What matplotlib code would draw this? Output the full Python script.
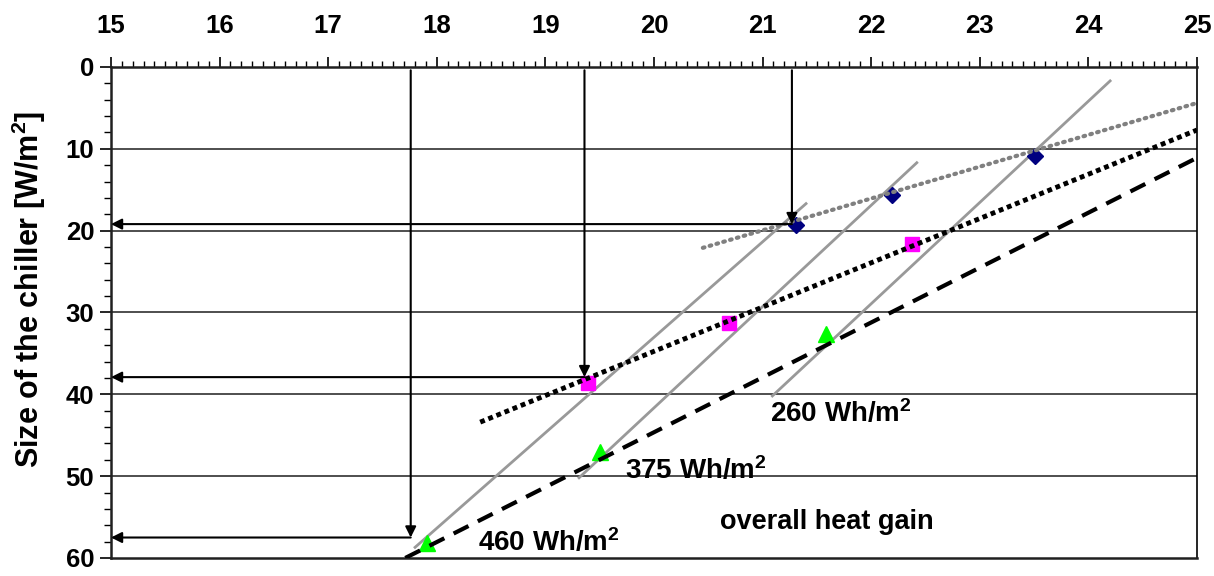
import matplotlib
matplotlib.use("Agg")
import matplotlib.pyplot as plt
from matplotlib.ticker import MultipleLocator

plt.rcParams['font.family'] = ['Liberation Sans', 'DejaVu Sans']
plt.rcParams['font.weight'] = 'bold'
plt.rcParams['mathtext.fontset'] = 'custom'
plt.rcParams['mathtext.rm'] = 'Liberation Sans'
plt.rcParams['mathtext.bf'] = 'Liberation Sans:bold'
plt.rcParams['mathtext.default'] = 'regular'

# measured points
diamond_x = [21.31, 22.19, 23.51]
diamond_y = [19.3, 15.6, 10.9]
square_x = [19.39, 20.69, 22.38]
square_y = [38.6, 31.3, 21.6]
triangle_x = [17.91, 19.50, 21.58]
triangle_y = [58.2, 47.1, 32.6]

# trend lines (end points)
trend_grey_x = [20.45, 25.0]
trend_grey_y = [22.1, 4.4]
trend_dot_x = [18.40, 25.0]
trend_dot_y = [43.4, 7.7]
trend_dash_x = [17.71, 25.0]
trend_dash_y = [60.0, 11.1]

# constant heat gain lines
gain_labels = ['460 Wh/m$^\\mathbf{2}$', '375 Wh/m$^\\mathbf{2}$', '260 Wh/m$^\\mathbf{2}$']
gain_x = [[17.80, 21.40], [19.31, 22.42], [21.09, 24.20]]
gain_y = [[58.7, 16.7], [50.2, 11.7], [40.2, 1.7]]
label_x = [18.38, 19.73, 21.07]
label_y = [58.1, 49.3, 42.3]

# read-off arrows
read_x = [17.76, 19.36, 21.27]
read_y = [57.5, 37.9, 19.2]

fig = plt.figure(figsize=(12.14, 5.76), dpi=100)
ax = fig.add_axes([0.0914, 0.0313, 0.8946, 0.8524])

for yv in [10, 20, 30, 40, 50]:
    ax.axhline(yv, color='#303030', lw=1.2, zorder=1)

for gx, gy in zip(gain_x, gain_y):
    ax.plot(gx, gy, color='#999999', lw=2, zorder=2)

ax.plot(diamond_x, diamond_y, 'D', color='#000080', ms=8, zorder=3)
ax.plot(square_x, square_y, 's', color='#ff00ff', ms=10, zorder=3)
ax.plot(triangle_x, triangle_y, '^', color='#00ff00', ms=11, zorder=3)

ax.plot(trend_grey_x, trend_grey_y, color='#808080', lw=3, ls=(0, (0.4, 1.3)),
        dash_capstyle='round', zorder=4)
ax.plot(trend_dot_x, trend_dot_y, color='black', lw=3.5, ls=(0, (1, 0.8)), zorder=4)
ax.plot(trend_dash_x, trend_dash_y, color='black', lw=3, ls=(0, (4, 2.5)), zorder=4)

for rx, ry in zip(read_x, read_y):
    ax.annotate('', xy=(rx, ry), xytext=(rx, 0.4),
                arrowprops=dict(arrowstyle='-|>', color='black', lw=1.5,
                                mutation_scale=16, shrinkA=0, shrinkB=0), zorder=5)
    ax.annotate('', xy=(15.0, ry), xytext=(rx, ry),
                arrowprops=dict(arrowstyle='-|>', color='black', lw=1.5,
                                mutation_scale=16, shrinkA=0, shrinkB=0), zorder=5)

for t, lx, ly in zip(gain_labels, label_x, label_y):
    ax.text(lx, ly, t, fontsize=20, fontweight='bold', va='center', ha='left')
ax.text(20.61, 55.6, 'overall heat gain', fontsize=19.5, fontweight='bold',
        va='center', ha='left')

ax.set_xlim(15, 25)
ax.set_ylim(60, 0)
ax.xaxis.tick_top()
ax.xaxis.set_major_locator(MultipleLocator(1))
ax.xaxis.set_minor_locator(MultipleLocator(0.1))
ax.yaxis.set_major_locator(MultipleLocator(10))
ax.yaxis.set_minor_locator(MultipleLocator(2))
ax.tick_params(axis='x', which='major', length=7, width=1.2, labelsize=18.5, pad=14)
ax.tick_params(axis='x', which='minor', length=4, width=1)
ax.tick_params(axis='y', which='major', length=8, width=1.2, labelsize=18.5, pad=4)
ax.tick_params(axis='y', which='minor', length=5, width=1)
for lab in ax.get_xticklabels() + ax.get_yticklabels():
    lab.set_fontweight('bold')

for s in ['left', 'bottom', 'top']:
    ax.spines[s].set_linewidth(1.8)
    ax.spines[s].set_color('#202020')
ax.spines['right'].set_linewidth(1.2)

ax.set_ylabel('Size of the chiller [W/m$^\\mathbf{2}$]', fontsize=22, fontweight='bold')
ax.yaxis.set_label_coords(-0.058, 0.548)

fig.savefig('out.png', dpi=100)
